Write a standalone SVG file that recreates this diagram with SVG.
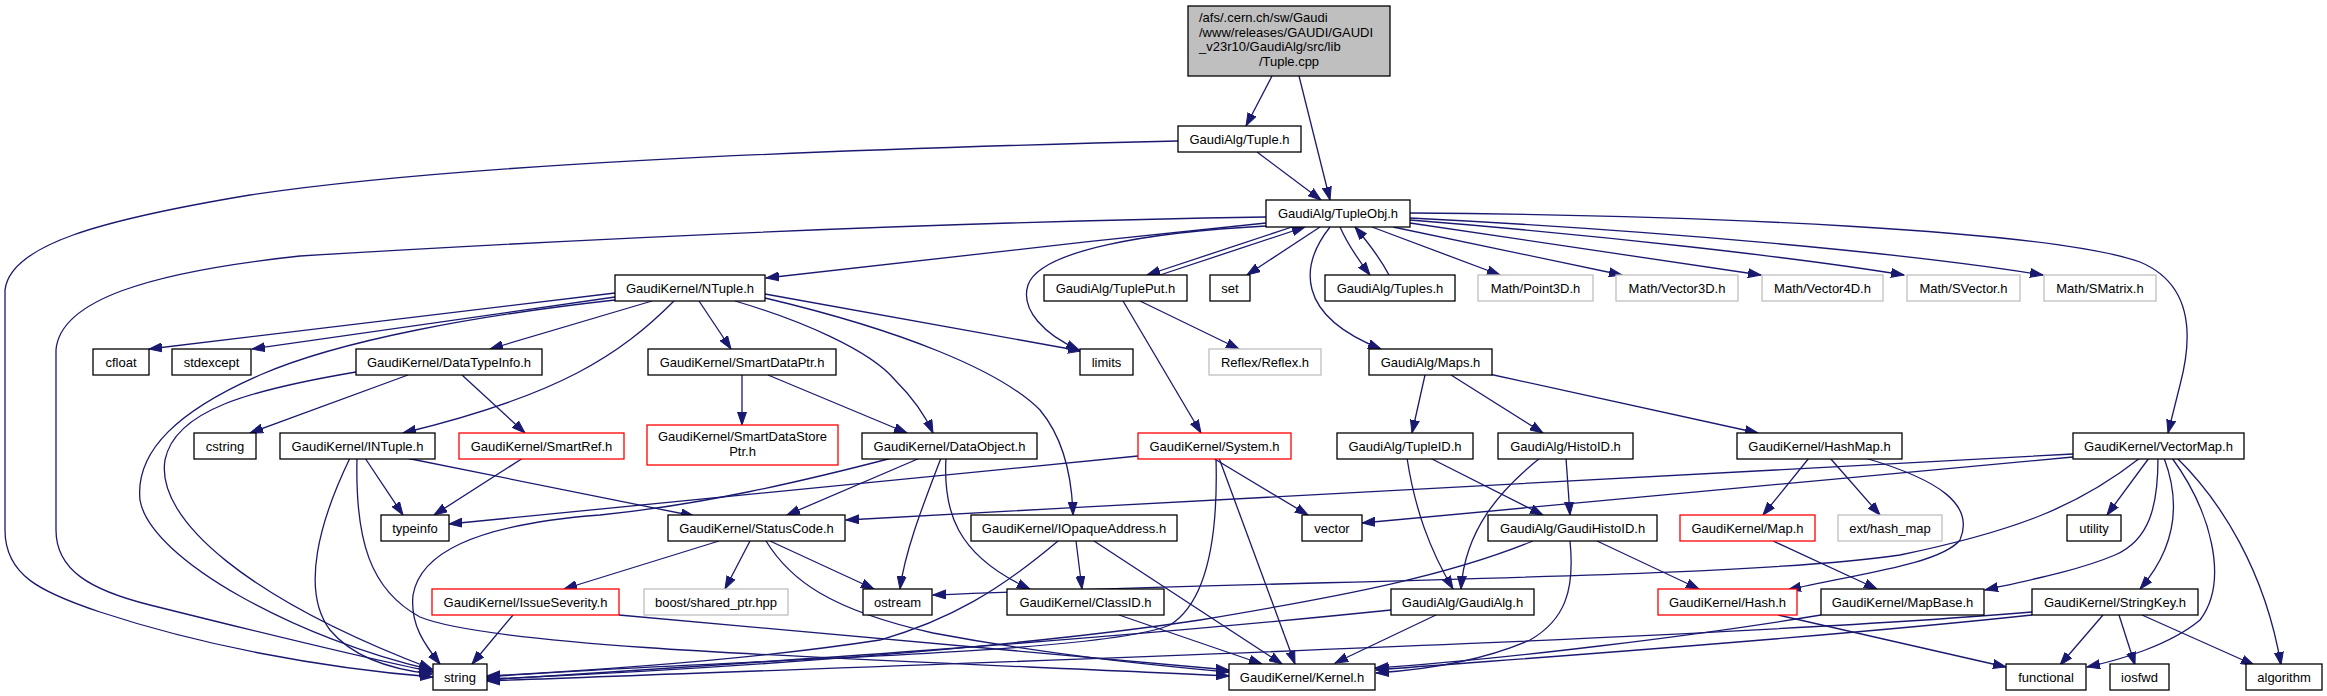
<svg xmlns="http://www.w3.org/2000/svg" width="2327" height="696" viewBox="0 0 2327 696">
<style>
.n rect{fill:#ffffff;stroke:#000000;stroke-width:1.3}
.n.r rect{stroke:#ff0000}
.n.g rect{stroke:#bfbfbf}
.n.top rect{fill:#bfbfbf}
text{font-family:"Liberation Sans",Arial,Helvetica,sans-serif;font-size:13px;fill:#000000;text-anchor:middle}
text.l{text-anchor:start}
#edges path{fill:none;stroke:#191970;stroke-width:1.3;marker-end:url(#a)}
</style>
<defs>
<marker id="a" markerUnits="userSpaceOnUse" markerWidth="14" markerHeight="10" refX="13" refY="5" orient="auto" viewBox="0 0 14 10">
<path d="M0,0.5 L13,5 L0,9.5 z" fill="#191970" stroke="#191970" stroke-width="1"/>
</marker>
</defs>
<rect width="2327" height="696" fill="#ffffff"/>
<g id="edges">
<path d="M1272,76 L1246,126"/>
<path d="M1299,76 L1330,200"/>
<path d="M1257,152 L1321,200"/>
<path d="M1178,141 C800,150 450,165 250,195 C100,220 10,245 5,290 L5,530 C5,575 40,592 100,612 C200,645 320,668 433,677"/>
<path d="M1266,217 C950,222 600,238 300,256 C150,272 60,300 56,350 L56,530 C56,570 90,590 150,605 C250,630 350,655 433,672"/>
<path d="M1266,223 C1100,240 900,262 766,278"/>
<path d="M1266,226 C1150,232 1040,250 1028,285 C1020,310 1045,335 1079,350"/>
<path d="M1292,227 L1147,275"/>
<path d="M1160,275 L1305,227"/>
<path d="M1320,227 L1247,275"/>
<path d="M1340,227 C1348,245 1360,262 1370,275"/>
<path d="M1389,275 C1380,258 1366,240 1355,227"/>
<path d="M1330,227 C1300,265 1295,315 1381,349"/>
<path d="M1372,227 L1500,275"/>
<path d="M1393,227 L1622,275"/>
<path d="M1410,223 L1761,275"/>
<path d="M1410,220 C1600,235 1800,258 1904,275"/>
<path d="M1410,218 C1650,230 1900,252 2043,275"/>
<path d="M1410,213 C1700,215 2050,230 2140,262 C2195,285 2192,340 2180,385 L2168,433"/>
<path d="M1123,301 L1201,433"/>
<path d="M1140,301 L1239,349"/>
<path d="M615,293 L149,349"/>
<path d="M615,297 L252,349"/>
<path d="M615,300 C480,315 340,340 260,375 C180,410 135,450 140,500 C150,560 300,640 432,670"/>
<path d="M356,372 C250,390 175,410 165,460 C155,520 250,600 432,669"/>
<path d="M652,301 L490,349"/>
<path d="M674,301 C620,355 560,395 403,433"/>
<path d="M699,301 L731,349"/>
<path d="M735,301 C800,320 870,350 895,380 C915,400 925,415 933,433"/>
<path d="M765,294 L1081,351"/>
<path d="M765,298 C900,330 1000,370 1040,410 C1065,440 1072,480 1073,515"/>
<path d="M742,375 L742,425"/>
<path d="M768,375 L907,433"/>
<path d="M408,375 L250,433"/>
<path d="M462,375 L525,433"/>
<path d="M365,458 L403,515"/>
<path d="M406,458 L694,516"/>
<path d="M350,458 C320,520 300,590 330,630 C355,660 395,670 432,674"/>
<path d="M357,458 C355,540 370,590 420,617 C500,650 900,660 1229,676"/>
<path d="M523,458 L434,515"/>
<path d="M1138,456 L449,524"/>
<path d="M1216,458 C1218,530 1210,600 1170,625 C1100,655 700,660 487,677"/>
<path d="M1213,458 L1308,515"/>
<path d="M1219,458 L1295,664"/>
<path d="M892,458 C800,482 700,505 600,515 C470,525 420,555 413,595 C410,625 425,645 440,664"/>
<path d="M920,458 L787,515"/>
<path d="M941,458 C925,500 905,550 900,589"/>
<path d="M946,458 C943,510 955,555 1030,589"/>
<path d="M719,541 L564,589"/>
<path d="M750,541 L725,589"/>
<path d="M770,541 L874,589"/>
<path d="M766,541 C790,580 830,610 933,633 C1050,655 1150,665 1229,672"/>
<path d="M513,615 L472,664"/>
<path d="M619,615 C800,630 1000,650 1229,670"/>
<path d="M1076,541 L1082,589"/>
<path d="M1094,541 L1282,664"/>
<path d="M1058,541 C1000,590 950,620 880,640 C750,660 600,670 487,676"/>
<path d="M1119,615 L1262,664"/>
<path d="M1425,375 L1412,433"/>
<path d="M1451,375 L1543,433"/>
<path d="M1489,374 L1758,433"/>
<path d="M1430,458 L1543,515"/>
<path d="M1407,458 C1415,510 1430,550 1453,589"/>
<path d="M1566,458 L1570,515"/>
<path d="M1540,458 C1500,490 1465,530 1461,589"/>
<path d="M1597,541 L1699,589"/>
<path d="M1533,541 C1450,575 1350,595 1200,620 C1000,650 700,670 487,679"/>
<path d="M1570,541 C1575,590 1565,620 1530,640 C1480,662 1420,670 1376,673"/>
<path d="M1391,610 C1100,640 800,660 487,680"/>
<path d="M1436,615 L1335,663"/>
<path d="M1809,458 L1763,515"/>
<path d="M1830,458 L1880,515"/>
<path d="M1865,458 C1940,480 1975,505 1960,540 C1940,565 1850,575 1788,590"/>
<path d="M1773,541 L1877,589"/>
<path d="M1778,615 L2006,667"/>
<path d="M2073,454 C1800,470 1300,495 846,520"/>
<path d="M2073,457 L1362,523"/>
<path d="M2140,458 C2080,505 2020,530 1900,555 C1750,578 1300,580 933,595"/>
<path d="M2149,458 L2107,515"/>
<path d="M2158,458 C2158,505 2150,540 2115,555 C2080,570 2030,580 1985,590"/>
<path d="M2164,458 C2180,500 2178,545 2140,589"/>
<path d="M2172,458 C2210,510 2230,580 2200,620 C2170,645 2120,660 2087,667"/>
<path d="M2177,458 C2220,500 2265,570 2281,665"/>
<path d="M2103,615 L2060,665"/>
<path d="M2119,615 L2135,665"/>
<path d="M2142,615 L2254,665"/>
<path d="M2032,612 C1700,640 900,665 487,681"/>
<path d="M2032,615 C1800,640 1500,660 1376,670"/>
<path d="M1821,615 C1700,635 1500,660 1375,668"/>
</g>
<g id="n_tuplecpp" class="n top"><rect x="1188" y="6" width="202" height="70"/><text class="l" x="1199" y="22">/afs/.cern.ch/sw/Gaudi</text><text class="l" x="1199" y="36.5">/www/releases/GAUDI/GAUDI</text><text class="l" x="1199" y="51">_v23r10/GaudiAlg/src/lib</text><text x="1289" y="65.5">/Tuple.cpp</text></g>
<g id="n_tupleh" class="n"><rect x="1178" y="126" width="123" height="26"/><text x="1239.5" y="143.5">GaudiAlg/Tuple.h</text></g>
<g id="n_tupleobj" class="n"><rect x="1266" y="200" width="144" height="27"/><text x="1338" y="218">GaudiAlg/TupleObj.h</text></g>
<g id="n_ntuple" class="n"><rect x="615" y="275" width="150" height="26"/><text x="690" y="292.5">GaudiKernel/NTuple.h</text></g>
<g id="n_tupleput" class="n"><rect x="1044" y="275" width="143" height="26"/><text x="1115.5" y="292.5">GaudiAlg/TuplePut.h</text></g>
<g id="n_set" class="n"><rect x="1210" y="275" width="40" height="26"/><text x="1230" y="292.5">set</text></g>
<g id="n_tuples" class="n"><rect x="1325" y="275" width="130" height="26"/><text x="1390" y="292.5">GaudiAlg/Tuples.h</text></g>
<g id="n_point3d" class="n g"><rect x="1478" y="275" width="115" height="26"/><text x="1535.5" y="292.5">Math/Point3D.h</text></g>
<g id="n_vector3d" class="n g"><rect x="1616" y="275" width="122" height="26"/><text x="1677" y="292.5">Math/Vector3D.h</text></g>
<g id="n_vector4d" class="n g"><rect x="1762" y="275" width="121" height="26"/><text x="1822.5" y="292.5">Math/Vector4D.h</text></g>
<g id="n_svector" class="n g"><rect x="1907" y="275" width="113" height="26"/><text x="1963.5" y="292.5">Math/SVector.h</text></g>
<g id="n_smatrix" class="n g"><rect x="2044" y="275" width="112" height="26"/><text x="2100" y="292.5">Math/SMatrix.h</text></g>
<g id="n_cfloat" class="n"><rect x="93" y="349" width="56" height="26"/><text x="121" y="366.5">cfloat</text></g>
<g id="n_stdexcept" class="n"><rect x="172" y="349" width="79" height="26"/><text x="211.5" y="366.5">stdexcept</text></g>
<g id="n_datatypeinfo" class="n"><rect x="356" y="349" width="186" height="26"/><text x="449" y="366.5">GaudiKernel/DataTypeInfo.h</text></g>
<g id="n_smartdataptr" class="n"><rect x="648" y="349" width="188" height="26"/><text x="742" y="366.5">GaudiKernel/SmartDataPtr.h</text></g>
<g id="n_limits" class="n"><rect x="1080" y="349" width="53" height="26"/><text x="1106.5" y="366.5">limits</text></g>
<g id="n_reflex" class="n g"><rect x="1209" y="349" width="112" height="26"/><text x="1265" y="366.5">Reflex/Reflex.h</text></g>
<g id="n_maps" class="n"><rect x="1369" y="349" width="123" height="26"/><text x="1430.5" y="366.5">GaudiAlg/Maps.h</text></g>
<g id="n_cstring" class="n"><rect x="194" y="433" width="62" height="26"/><text x="225" y="450.5">cstring</text></g>
<g id="n_intuple" class="n"><rect x="280" y="433" width="155" height="26"/><text x="357.5" y="450.5">GaudiKernel/INTuple.h</text></g>
<g id="n_smartref" class="n r"><rect x="459" y="433" width="165" height="26"/><text x="541.5" y="450.5">GaudiKernel/SmartRef.h</text></g>
<g id="n_smartdatastoreptr" class="n r"><rect x="647" y="425" width="191" height="40"/><text x="742.5" y="441">GaudiKernel/SmartDataStore</text><text x="742.5" y="456">Ptr.h</text></g>
<g id="n_dataobject" class="n"><rect x="862" y="433" width="175" height="26"/><text x="949.5" y="450.5">GaudiKernel/DataObject.h</text></g>
<g id="n_system" class="n r"><rect x="1138" y="433" width="153" height="26"/><text x="1214.5" y="450.5">GaudiKernel/System.h</text></g>
<g id="n_tupleid" class="n"><rect x="1337" y="433" width="136" height="26"/><text x="1405" y="450.5">GaudiAlg/TupleID.h</text></g>
<g id="n_histoid" class="n"><rect x="1498" y="433" width="135" height="26"/><text x="1565.5" y="450.5">GaudiAlg/HistoID.h</text></g>
<g id="n_hashmap" class="n"><rect x="1737" y="433" width="165" height="26"/><text x="1819.5" y="450.5">GaudiKernel/HashMap.h</text></g>
<g id="n_vectormap" class="n"><rect x="2073" y="433" width="171" height="26"/><text x="2158.5" y="450.5">GaudiKernel/VectorMap.h</text></g>
<g id="n_typeinfo" class="n"><rect x="381" y="515" width="68" height="26"/><text x="415" y="532.5">typeinfo</text></g>
<g id="n_statuscode" class="n"><rect x="668" y="515" width="177" height="26"/><text x="756.5" y="532.5">GaudiKernel/StatusCode.h</text></g>
<g id="n_iopaqueaddress" class="n"><rect x="971" y="515" width="206" height="26"/><text x="1074" y="532.5">GaudiKernel/IOpaqueAddress.h</text></g>
<g id="n_vector" class="n"><rect x="1302" y="515" width="60" height="26"/><text x="1332" y="532.5">vector</text></g>
<g id="n_gaudihistoid" class="n"><rect x="1488" y="515" width="169" height="26"/><text x="1572.5" y="532.5">GaudiAlg/GaudiHistoID.h</text></g>
<g id="n_map" class="n r"><rect x="1680" y="515" width="135" height="26"/><text x="1747.5" y="532.5">GaudiKernel/Map.h</text></g>
<g id="n_exthashmap" class="n g"><rect x="1838" y="515" width="104" height="26"/><text x="1890" y="532.5">ext/hash_map</text></g>
<g id="n_utility" class="n"><rect x="2067" y="515" width="54" height="26"/><text x="2094" y="532.5">utility</text></g>
<g id="n_issueseverity" class="n r"><rect x="432" y="589" width="187" height="26"/><text x="525.5" y="606.5">GaudiKernel/IssueSeverity.h</text></g>
<g id="n_boost" class="n g"><rect x="644" y="589" width="144" height="26"/><text x="716" y="606.5">boost/shared_ptr.hpp</text></g>
<g id="n_ostream" class="n"><rect x="863" y="589" width="69" height="26"/><text x="897.5" y="606.5">ostream</text></g>
<g id="n_classid" class="n"><rect x="1007" y="589" width="157" height="26"/><text x="1085.5" y="606.5">GaudiKernel/ClassID.h</text></g>
<g id="n_gaudialg" class="n"><rect x="1391" y="589" width="143" height="26"/><text x="1462.5" y="606.5">GaudiAlg/GaudiAlg.h</text></g>
<g id="n_hash" class="n r"><rect x="1658" y="589" width="139" height="26"/><text x="1727.5" y="606.5">GaudiKernel/Hash.h</text></g>
<g id="n_mapbase" class="n"><rect x="1821" y="589" width="163" height="26"/><text x="1902.5" y="606.5">GaudiKernel/MapBase.h</text></g>
<g id="n_stringkey" class="n"><rect x="2032" y="589" width="166" height="26"/><text x="2115" y="606.5">GaudiKernel/StringKey.h</text></g>
<g id="n_string" class="n"><rect x="433" y="664" width="54" height="26"/><text x="460" y="681.5">string</text></g>
<g id="n_kernel" class="n"><rect x="1229" y="664" width="146" height="26"/><text x="1302" y="681.5">GaudiKernel/Kernel.h</text></g>
<g id="n_functional" class="n"><rect x="2006" y="664" width="80" height="26"/><text x="2046" y="681.5">functional</text></g>
<g id="n_iosfwd" class="n"><rect x="2110" y="664" width="59" height="26"/><text x="2139.5" y="681.5">iosfwd</text></g>
<g id="n_algorithm" class="n"><rect x="2246" y="664" width="76" height="26"/><text x="2284" y="681.5">algorithm</text></g>
</svg>
